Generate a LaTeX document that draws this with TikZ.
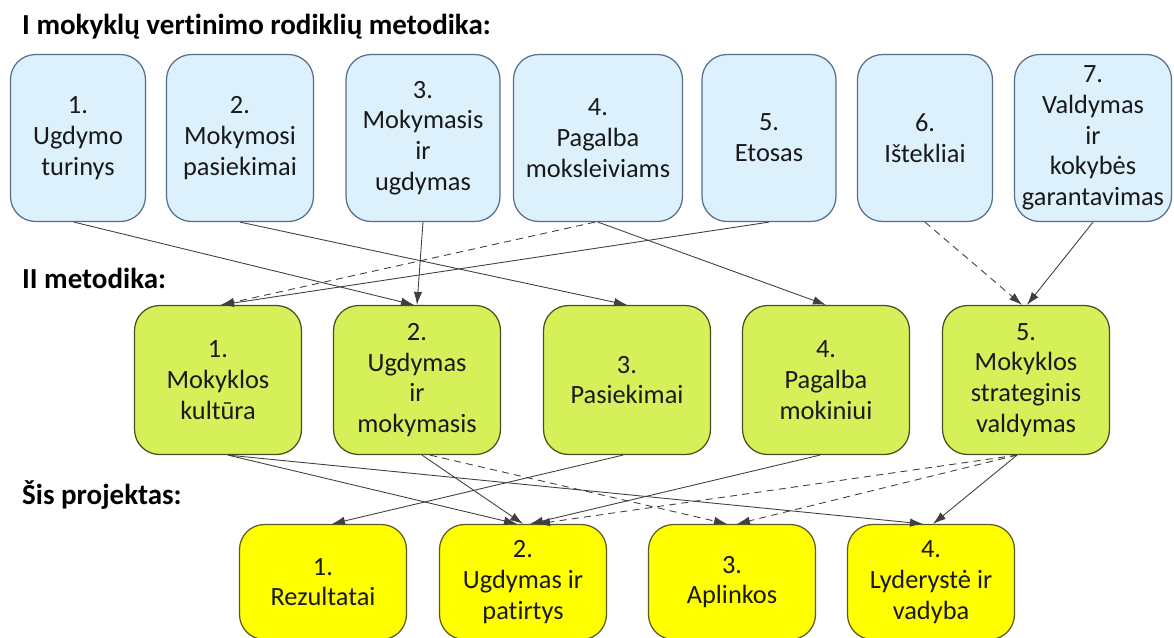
\documentclass[tikz,border=0pt]{standalone}
\usepackage{fontspec}
\setmainfont{Carlito}[Ligatures=NoCommon]
\usetikzlibrary{arrows.meta}

\definecolor{topfill}{RGB}{221,241,253}
\definecolor{topline}{RGB}{84,110,140}
\definecolor{midfill}{RGB}{214,240,90}
\definecolor{midline}{RGB}{70,80,30}
\definecolor{botfill}{RGB}{255,255,0}
\definecolor{botline}{RGB}{90,90,40}

\tikzset{
  box/.style={rounded corners=0.5cm, line width=0.7pt, align=center, inner sep=1pt,
    font=\fontsize{15}{17.5}\selectfont, text=black!90},
  topbox/.style={box, fill=topfill, draw=topline, minimum height=3.34cm},
  midbox/.style={box, fill=midfill, draw=midline, minimum width=3.34cm, minimum height=2.98cm},
  botbox/.style={box, fill=botfill, draw=botline, minimum width=3.34cm, minimum height=2.3cm},
  head/.style={anchor=west, font=\fontsize{16.5}{18}\bfseries, text=black},
  lnk/.style={draw=black!75, line width=0.5pt, -{Latex[length=2.6mm,width=1.7mm]}},
  lnkdash/.style={lnk, dash pattern=on 4pt off 3pt}
}

\begin{document}
\begin{tikzpicture}[x=0.02cm, y=-0.02cm]
		%%%%% START %%%%%
		\useasboundingbox[fill=white] (0,0) rectangle (1174,637);
		
		% headings
		\node[head] (h1) at (16,27) {I mokyklų vertinimo rodiklių metodika:};
		\node[head] (h2) at (16,278) {II metodika:};
		\node[head] (h3) at (16,495) {Šis projektas:};
		
		% first row
		\node[topbox, minimum width=2.7cm] (t1) at (78,138) {1.\\Ugdymo\\turinys};
		\node[topbox, minimum width=2.94cm] (t2) at (240,138) {2.\\Mokymosi\\pasiekimai};
		\node[topbox, minimum width=3.08cm] (t3) at (423,138) {3.\\Mokymasis\\ir\\ugdymas};
		\node[topbox, minimum width=3.38cm] (t4) at (598,138) {4.\\Pagalba\\moksleiviams};
		\node[topbox, minimum width=2.68cm] (t5) at (769,138) {5.\\Etosas};
		\node[topbox, minimum width=2.7cm] (t6) at (925,138) {6.\\Ištekliai};
		\node[topbox, minimum width=3.14cm] (t7) at (1093,138) {7.\\Valdymas\\ir\\kokybės\\garantavimas};
		
		% second row
		\node[midbox] (m1) at (218,380) {1.\\Mokyklos\\kultūra};
		\node[midbox] (m2) at (417,380) {2.\\Ugdymas\\ir\\mokymasis};
		\node[midbox] (m3) at (627,380) {3.\\Pasiekimai};
		\node[midbox] (m4) at (826,380) {4.\\Pagalba\\mokiniui};
		\node[midbox] (m5) at (1026,380) {5.\\Mokyklos\\strateginis\\valdymas};
		
		% third row
		\node[botbox] (b1) at (323,582) {1.\\Rezultatai};
		\node[botbox] (b2) at (523,582) {2.\\Ugdymas ir\\patirtys};
		\node[botbox] (b3) at (732,582) {3.\\Aplinkos};
		\node[botbox] (b4) at (931,582) {4.\\Lyderystė ir\\vadyba};
		
		% first -> second
		\draw[lnk] ([xshift=-0.08cm]t1.south) -- ([xshift=-0.06cm]m2.north);
		\draw[lnk] (t2.south) -- (m3.north);
		\draw[lnk] (t3.south) -- (m2.north);
		\draw[lnkdash] ([xshift=-0.06cm]t4.south) -- ([xshift=0.06cm]m1.north);
		\draw[lnk] (t5.south) -- ([xshift=0.06cm]m1.north);
		\draw[lnk] (t4.south) -- (m4.north);
		\draw[lnkdash] (t6.south) -- ([xshift=-0.08cm]m5.north);
		\draw[lnk] (t7.south) -- ([xshift=0.02cm]m5.north);
		
		% second -> third
		\draw[lnk] ([xshift=0.2cm]m1.south) -- ([xshift=-0.12cm]b2.north);
		\draw[lnk] ([xshift=0.2cm]m1.south) -- ([xshift=-0.16cm]b4.north);
		\draw[lnk] ([xshift=0.1cm]m2.south) -- (b2.north);
		\draw[lnkdash] ([xshift=0.26cm]m2.south) -- ([xshift=-0.1cm]b3.north);
		\draw[lnk] ([xshift=-0.08cm]m3.south) -- ([xshift=0.18cm]b1.north);
		\draw[lnk] ([xshift=-0.12cm]m4.south) -- ([xshift=0.14cm]b2.north);
		\draw[lnkdash] ([xshift=-0.18cm]m5.south) -- ([xshift=0.28cm]b2.north);
		\draw[lnkdash] ([xshift=-0.18cm]m5.south) -- ([xshift=0.1cm]b3.north);
		\draw[lnk] ([xshift=-0.18cm]m5.south) -- ([xshift=0.04cm]b4.north);
		
		%%%%% END %%%%%
\end{tikzpicture}
\end{document}
